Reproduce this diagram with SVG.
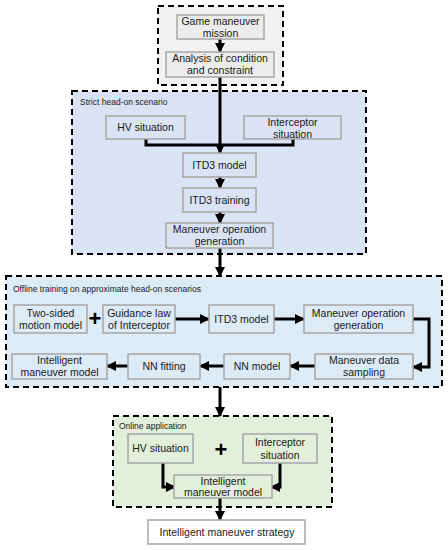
<svg xmlns="http://www.w3.org/2000/svg" width="448" height="550" viewBox="0 0 448 550">
<style>
text{font-family:"Liberation Sans",Arial,sans-serif;fill:#1a1a1a}
.t{font-size:10.5px;text-anchor:middle}
.lbl{font-size:8.5px}
.box{stroke:#a6a6a6;stroke-width:1.5}
.cont{stroke:#000;stroke-width:2;stroke-dasharray:6,4}
.c{fill:none;stroke:#000;stroke-width:3}
.plus{font-size:22px;font-weight:bold;text-anchor:middle;fill:#000}
</style>
<defs>
<marker id="ah" viewBox="0 0 10 10" refX="9" refY="5" markerWidth="10" markerHeight="14" markerUnits="userSpaceOnUse" orient="auto">
<path d="M0,0 L10,5 L0,10 z" fill="#000"/>
</marker>
</defs>

<g id="containers">
<rect x="158" y="6" width="125" height="79" fill="#f2f2f2" class="cont"/>
<rect x="72" y="91" width="294" height="163" fill="#dae3f3" class="cont"/>
<text class="lbl" x="80" y="105">Strict head-on scenario</text>
<rect x="6" y="276" width="436" height="111" fill="#ddebf7" class="cont"/>
<text class="lbl" x="13" y="292">Offline training on approximate head-on scenarios</text>
<rect x="113" y="416" width="219" height="91" fill="#e2efda" class="cont"/>
<text class="lbl" x="119" y="429">Online application</text>
</g>

<g id="connectors">
<line class="c" x1="220" y1="39" x2="220" y2="52" marker-end="url(#ah)"/>
<line class="c" x1="220" y1="77" x2="220" y2="153" marker-end="url(#ah)"/>
<polyline class="c" points="146,139 146,145 293,145 293,139"/>
<line class="c" x1="220" y1="177" x2="220" y2="188" marker-end="url(#ah)"/>
<line class="c" x1="220" y1="212" x2="220" y2="223" marker-end="url(#ah)"/>
<line class="c" x1="220" y1="248" x2="220" y2="276" marker-end="url(#ah)"/>
<line class="c" x1="175" y1="319" x2="209" y2="319" marker-end="url(#ah)"/>
<line class="c" x1="274" y1="319" x2="304" y2="319" marker-end="url(#ah)"/>
<polyline class="c" points="413,319 429,319 429,367 413,367" marker-end="url(#ah)"/>
<line class="c" x1="315" y1="366" x2="290" y2="366" marker-end="url(#ah)"/>
<line class="c" x1="224" y1="366" x2="200" y2="366" marker-end="url(#ah)"/>
<line class="c" x1="128" y1="366" x2="107" y2="366" marker-end="url(#ah)"/>
<line class="c" x1="220" y1="387" x2="220" y2="416" marker-end="url(#ah)"/>
<polyline class="c" points="163,463 163,487 175,487" marker-end="url(#ah)"/>
<polyline class="c" points="280,463 280,487 271,487" marker-end="url(#ah)"/>
<line class="c" x1="220" y1="498" x2="220" y2="520" marker-end="url(#ah)"/>
</g>

<g id="game">
<rect class="box" x="177" y="15" width="87" height="24" fill="#ececec"/>
<text class="t" x="220.5" y="25">Game maneuver</text>
<text class="t" x="220.5" y="37">mission</text>
</g>
<g id="analysis">
<rect class="box" x="166" y="52" width="108" height="25" fill="#ececec"/>
<text class="t" x="220" y="62">Analysis of condition</text>
<text class="t" x="220" y="74">and constraint</text>
</g>

<g id="hv1">
<rect class="box" x="106" y="116" width="79" height="23" fill="#dae3f3"/>
<text class="t" x="145.5" y="131">HV situation</text>
</g>
<g id="int1">
<rect class="box" x="244" y="116" width="97" height="23" fill="#dae3f3"/>
<text class="t" x="292.5" y="126">Interceptor</text>
<text class="t" x="292.5" y="138">situation</text>
</g>
<g id="itd3a">
<rect class="box" x="183" y="153" width="73" height="24" fill="#dae3f3"/>
<text class="t" x="219.5" y="169">ITD3 model</text>
</g>
<g id="itd3t">
<rect class="box" x="183" y="188" width="73" height="24" fill="#dae3f3"/>
<text class="t" x="219.5" y="204">ITD3 training</text>
</g>
<g id="mog1">
<rect class="box" x="166" y="223" width="107" height="25" fill="#dae3f3"/>
<text class="t" x="219.5" y="233">Maneuver operation</text>
<text class="t" x="219.5" y="245">generation</text>
</g>

<g id="twosided">
<rect class="box" x="14" y="305" width="73" height="28" fill="#ddebf7"/>
<text class="t" x="50.5" y="317">Two-sided</text>
<text class="t" x="50.5" y="329">motion model</text>
</g>
<text class="plus" x="95" y="326">+</text>
<g id="guidance">
<rect class="box" x="103" y="305" width="72" height="28" fill="#ddebf7"/>
<text class="t" x="139" y="317">Guidance law</text>
<text class="t" x="139" y="329">of Interceptor</text>
</g>
<g id="itd3b">
<rect class="box" x="209" y="305" width="65" height="28" fill="#ddebf7"/>
<text class="t" x="241.5" y="323">ITD3 model</text>
</g>
<g id="mog2">
<rect class="box" x="304" y="305" width="109" height="28" fill="#ddebf7"/>
<text class="t" x="358.5" y="317">Maneuver operation</text>
<text class="t" x="358.5" y="329">generation</text>
</g>
<g id="sampling">
<rect class="box" x="315" y="354" width="98" height="25" fill="#ddebf7"/>
<text class="t" x="364" y="364">Maneuver data</text>
<text class="t" x="364" y="376">sampling</text>
</g>
<g id="nnmodel">
<rect class="box" x="224" y="354" width="66" height="25" fill="#ddebf7"/>
<text class="t" x="257" y="370">NN model</text>
</g>
<g id="nnfit">
<rect class="box" x="128" y="354" width="72" height="25" fill="#ddebf7"/>
<text class="t" x="164" y="370">NN fitting</text>
</g>
<g id="imm1">
<rect class="box" x="12" y="354" width="95" height="25" fill="#ddebf7"/>
<text class="t" x="59.5" y="364">Intelligent</text>
<text class="t" x="59.5" y="376">maneuver model</text>
</g>

<g id="hv2">
<rect class="box" x="128" y="434" width="65" height="29" fill="#e2efda"/>
<text class="t" x="160.5" y="452">HV situation</text>
</g>
<text class="plus" x="221" y="457">+</text>
<g id="int2">
<rect class="box" x="243" y="434" width="74" height="29" fill="#e2efda"/>
<text class="t" x="280" y="446">Interceptor</text>
<text class="t" x="280" y="459">situation</text>
</g>
<g id="imm2">
<rect class="box" x="174" y="475" width="98" height="23" fill="#e2efda"/>
<text class="t" x="223" y="485">Intelligent</text>
<text class="t" x="223" y="496">maneuver model</text>
</g>

<g id="strategy">
<rect class="box" x="148" y="520" width="157" height="24" fill="#ffffff"/>
<text class="t" x="227" y="536">Intelligent maneuver strategy</text>
</g>
</svg>
